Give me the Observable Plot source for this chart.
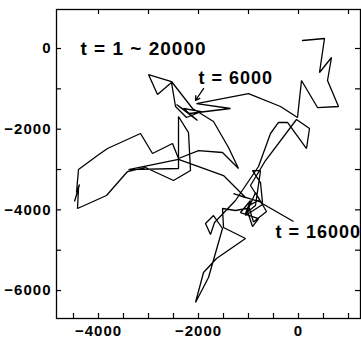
<!DOCTYPE html>
<html>
<head>
<meta charset="utf-8">
<script src="https://cdn.jsdelivr.net/npm/d3@7"></script>
<script src="https://cdn.jsdelivr.net/npm/@observablehq/plot@0.6"></script>
<style>
  html, body { margin: 0; padding: 0; background: #fff; }
  svg { display: block; }
</style>
</head>
<body>
<div id="chart"></div>
<script>
// Random-walk trajectory (data units)
const walkX = [80,520,420,660,580,800,380,60,-20,-360,-1000,-2040,-1360,-2180,-2440,-2020,-2300,-1940,-2240,-2460,
  -2540,-2820,-3000,-2540,-2120,-1700,-1400,-1200,-1520,-2000,-2400,-2520,-2720,-2920,-3160,-3820,-4020,-4400,-4440,-4380,
  -4480,-4400,-4420,-3840,-3420,-3060,-2500,-2160,-2200,-2400,-2400,-3400,-2400,-1500,-1060,-1300,-720,-760,-920,-760,-860,-1060,
  -960,-1160,-800,-920,-1040,-1260,-1520,-1500,-1060,-1640,-1900,-2060,-1800,-1520,-1700,-1860,-1760,-1680,-1260,-800,
  -560,-400,-220,160,220,-40,-660,-960,-720,-1060,-860,-640,-900,-1000,-780];
const walkY = [198,248,-595,-223,-793,-1438,-1463,-793,-1710,-1438,-1116,-1364,-1487,-1611,-1388,-1785,-1487,-1562,-1710,-1438,
  -843,-1140,-645,-818,-1487,-1810,-2454,-2975,-2578,-2529,-2727,-2355,-2479,-2603,-2107,-2479,-2653,-3000,-3570,-3372,
  -3793,-3471,-3966,-3644,-3050,-2950,-3272,-3025,-2083,-1686,-2975,-3000,-2750,-3149,-3694,-3595,-3818,-3322,-3025,-3025,-3892,-4091,
  -3768,-4066,-4215,-4413,-3966,-4016,-3966,-4438,-4710,-5206,-5553,-6297,-5677,-4462,-4140,-4339,-4611,-4314,-3768,-2925,
  -2107,-1834,-1834,-2479,-1983,-1760,-2777,-3396,-3867,-4140,-3570,-4040,-4300,-3900,-3750];

// Axis ticks
const xLabelTicks = [-4000, -2000, 0];
const yLabelTicks = [0, -2000, -4000, -6000];
const xBottomTicks = [-4500,-4000,-3500,-3000,-2500,-2000,-1500,-1000,-500,0,500,1000];
const xTopTicks = [-4000,-3000,-2000,-1000,0,1000];
const ySideTicks = [0,-1000,-2000,-3000,-4000,-5000,-6000];

// Annotations
const labelText = ["t = 1 ~ 20000", "t = 6000", "t = 16000"];
const labelX = [-4360, -2000, -460];
const labelY = [0, -744, -4561];
const labelSize = [19, 18, 18];
const arrowFrom = [-1900, -992];
const arrowTo = [-2060, -1289];
const leaderFrom = [-760, -3818];
const leaderTo = [-100, -4289];

const walk = walkX.map((x, i) => ({x, y: walkY[i]}));
const labels = labelText.map((t, i) => ({t, x: labelX[i], y: labelY[i], s: labelSize[i]}));

const W = 361, H = 341, mT = 9, mB = 23, mL = 56, mR = 1;
const innerH = H - mT - mB, innerW = W - mL - mR;
const tick = 5;

const font = "Liberation Sans, Arial, sans-serif";
const fmt = d => (d < 0 ? "\u2212" : "") + Math.abs(d);

const chart = Plot.plot({
  width: W, height: H,
  marginTop: mT, marginBottom: mB, marginLeft: mL, marginRight: mR,
  style: {fontFamily: font, background: "#fff", color: "#000"},
  x: {domain: [-4840, 1240]},
  y: {domain: [-6693, 967]},
  marks: [
    Plot.frame({stroke: "#000", strokeWidth: 1.3}),
    // inward ticks
    Plot.tickX(xBottomTicks, {x: d => d, insetTop: innerH - tick, stroke: "#000", strokeWidth: 1.2}),
    Plot.tickX(xTopTicks, {x: d => d, insetBottom: innerH - tick, stroke: "#000", strokeWidth: 1.2}),
    Plot.tickY(ySideTicks, {y: d => d, insetRight: innerW - tick, stroke: "#000", strokeWidth: 1.2}),
    Plot.tickY(ySideTicks, {y: d => d, insetLeft: innerW - tick, stroke: "#000", strokeWidth: 1.2}),
    Plot.axisX(xLabelTicks, {tickSize: 0, tickPadding: 7, tickFormat: fmt, fontSize: 15, fontWeight: "bold", label: null, fill: "#000"}),
    Plot.axisY(yLabelTicks, {tickSize: 0, tickPadding: 5, tickFormat: fmt, fontSize: 15, fontWeight: "bold", label: null, fill: "#000"}),
    // trajectory
    Plot.line(walk, {x: "x", y: "y", stroke: "#000", strokeWidth: 1.3, strokeLinejoin: "miter", curve: "linear"}),
    // annotations
    Plot.arrow([0], {x1: () => arrowFrom[0], y1: () => arrowFrom[1], x2: () => arrowTo[0], y2: () => arrowTo[1],
      stroke: "#000", strokeWidth: 1.3, headLength: 7}),
    Plot.link([0], {x1: () => leaderFrom[0], y1: () => leaderFrom[1], x2: () => leaderTo[0], y2: () => leaderTo[1],
      stroke: "#000", strokeWidth: 1.3}),
    Plot.text(labels, {x: "x", y: "y", text: "t", fontSize: d => d.s, fontWeight: "bold", textAnchor: "start",
      fill: "#000", fontFamily: font})
  ]
});
chart.querySelectorAll("text").forEach(t => t.setAttribute("letter-spacing", "1"));
document.getElementById("chart").appendChild(chart);
</script>
</body>
</html>
